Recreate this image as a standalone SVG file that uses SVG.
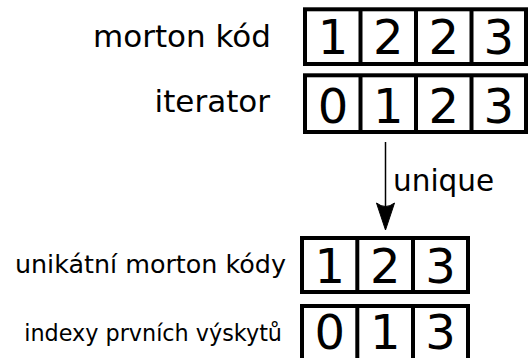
<svg xmlns="http://www.w3.org/2000/svg" width="532" height="358" viewBox="0 0 532 358">
<style>
.box{fill:#fff;stroke:#000;stroke-width:4}
.div{stroke:#000;stroke-width:4}
.dg{font-family:"DejaVu Sans",sans-serif;font-size:48px;text-anchor:middle;fill:#000}
.lb{font-family:"DejaVu Sans",sans-serif;fill:#000;text-anchor:end}
</style>
<rect width="532" height="358" fill="#fff"/>
<g id="label-morton"><text class="lb" x="271" y="47" font-size="31">morton kód</text></g>
<g id="label-iterator"><text class="lb" x="270" y="111.5" font-size="31">iterator</text></g>
<g id="label-unikatni"><text class="lb" x="286" y="273" font-size="25.4">unikátní morton kódy</text></g>
<g id="label-indexy"><text class="lb" x="282" y="341" font-size="22.3">indexy prvních výskytů</text></g>
<g id="array-morton">
<rect class="box" x="305" y="9.3" width="221" height="54.7"/>
<line class="div" x1="360.5" y1="9.3" x2="360.5" y2="64"/>
<line class="div" x1="416" y1="9.3" x2="416" y2="64"/>
<line class="div" x1="471.5" y1="9.3" x2="471.5" y2="64"/>
<text class="dg" x="333" y="54.3">1</text>
<text class="dg" x="388.3" y="54.3">2</text>
<text class="dg" x="443.8" y="54.3">2</text>
<text class="dg" x="498.8" y="54.3">3</text>
</g>
<g id="array-iterator">
<rect class="box" x="305" y="75.3" width="221" height="56.7"/>
<line class="div" x1="360.5" y1="75.3" x2="360.5" y2="132"/>
<line class="div" x1="416" y1="75.3" x2="416" y2="132"/>
<line class="div" x1="471.5" y1="75.3" x2="471.5" y2="132"/>
<text class="dg" x="333" y="122.5">0</text>
<text class="dg" x="388.3" y="122.5">1</text>
<text class="dg" x="443.8" y="122.5">2</text>
<text class="dg" x="498.8" y="122.5">3</text>
</g>
<g id="array-unique">
<rect class="box" x="302" y="238" width="166" height="54"/>
<line class="div" x1="357.3" y1="238" x2="357.3" y2="292"/>
<line class="div" x1="413" y1="238" x2="413" y2="292"/>
<text class="dg" x="329.7" y="283">1</text>
<text class="dg" x="385.2" y="283">2</text>
<text class="dg" x="440.5" y="283">3</text>
</g>
<g id="array-indexy">
<rect class="box" x="302" y="306" width="166" height="56"/>
<line class="div" x1="357.3" y1="306" x2="357.3" y2="362"/>
<line class="div" x1="413" y1="306" x2="413" y2="362"/>
<text class="dg" x="329.7" y="349">0</text>
<text class="dg" x="385.2" y="349">1</text>
<text class="dg" x="440.5" y="349">3</text>
</g>
<g id="connectors">
<line x1="385.5" y1="142" x2="385.5" y2="208" stroke="#000" stroke-width="1.5"/>
<path d="M385.5,230 L376.5,203 Q385.5,210 394.5,203 Z" fill="#000" stroke="#000" stroke-width="1" stroke-linejoin="round"/>
<text x="393" y="190.5" font-family="DejaVu Sans, sans-serif" font-size="29.5" fill="#000">unique</text>
</g>
</svg>
